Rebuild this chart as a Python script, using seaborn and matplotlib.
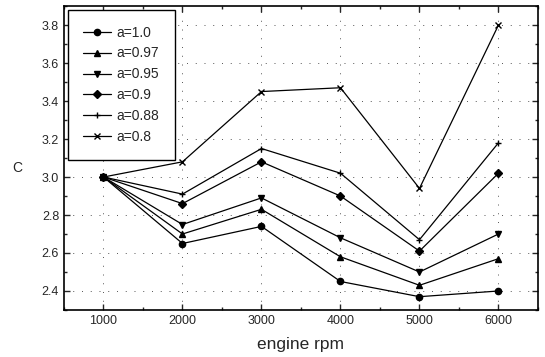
import matplotlib
matplotlib.use("Agg")
import matplotlib.pyplot as plt
from matplotlib.ticker import MultipleLocator
import numpy as np
import pandas as pd
import seaborn as sns

rpm = [1000, 2000, 3000, 4000, 5000, 6000]
labels = ["a=1.0", "a=0.97", "a=0.95", "a=0.9", "a=0.88", "a=0.8"]
c_10 = [3.00, 2.65, 2.74, 2.45, 2.37, 2.40]
c_097 = [3.00, 2.70, 2.83, 2.58, 2.43, 2.57]
c_095 = [3.00, 2.75, 2.89, 2.68, 2.50, 2.70]
c_09 = [3.00, 2.86, 3.08, 2.90, 2.61, 3.02]
c_088 = [3.00, 2.91, 3.15, 3.02, 2.67, 3.18]
c_08 = [3.00, 3.08, 3.45, 3.47, 2.94, 3.80]
series = [c_10, c_097, c_095, c_09, c_088, c_08]
marker_list = ["o", "^", "v", "D", "+", "x"]

sns.set_style("ticks")
plt.rcParams["font.family"] = ["Liberation Sans", "DejaVu Sans"]

fig = plt.figure(figsize=(5.45, 3.57), dpi=100)
ax = fig.add_axes([0.1174, 0.1317, 0.8697, 0.8513])

# one call per series: filled and line-art markers can't share a style mapping
for lab, vals, mk in zip(labels, series, marker_list):
    sns.lineplot(x=rpm, y=vals, color="black", marker=mk, linewidth=0.9,
                 markersize=4.5, markeredgecolor="black", markeredgewidth=1.0,
                 label=lab, ax=ax)

ax.set_xlim(500, 6500)
ax.set_ylim(2.3, 3.9)
ax.xaxis.set_major_locator(MultipleLocator(1000))
ax.xaxis.set_minor_locator(MultipleLocator(500))
ax.yaxis.set_major_locator(MultipleLocator(0.2))
ax.yaxis.set_minor_locator(MultipleLocator(0.1))
ax.tick_params(which="both", direction="in", top=True, right=True, labelsize=9, width=1)
ax.tick_params(which="major", length=4)
ax.tick_params(which="minor", length=2)
ax.grid(True, which="major", color="#555555", linestyle=(0, (1, 8)), linewidth=0.7)
for s in ax.spines.values():
    s.set_linewidth(1.2)
    s.set_color("black")

ax.set_xlabel("engine rpm", fontsize=12.5, labelpad=7)
ax.set_ylabel("C", fontsize=10, rotation=0, va="center", ha="center")
ax.yaxis.set_label_coords(-0.099, 0.467)

leg = ax.legend(loc="upper left", fontsize=10, frameon=True, fancybox=False,
                edgecolor="black", handlelength=2.0, handletextpad=0.4,
                labelspacing=0.5, borderpad=1.1, borderaxespad=0.3,
                framealpha=1)
leg.get_frame().set_linewidth(1.0)

fig.savefig("out.png", dpi=100)
